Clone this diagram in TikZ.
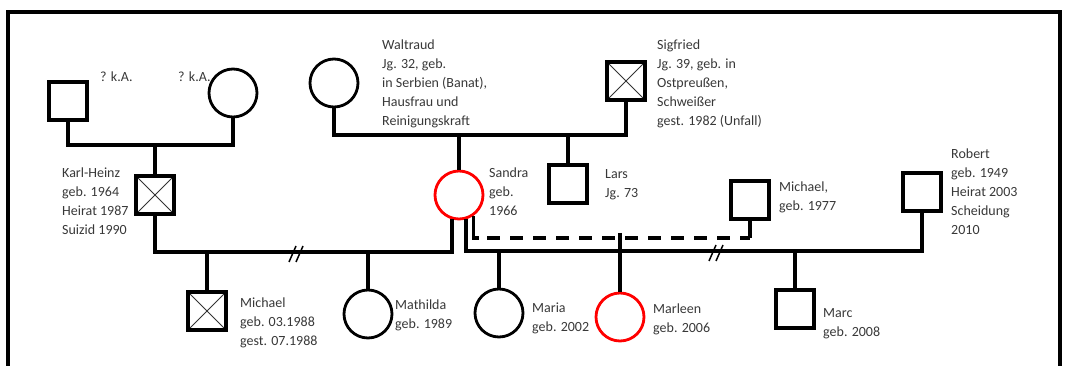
\documentclass[tikz,border=0pt]{standalone}
\usepackage{fontspec}
\setmainfont{Carlito}
\usetikzlibrary{positioning,calc}

\tikzset{
  male/.style={draw, rectangle, line width=3.2pt, minimum size=38pt, inner sep=0pt},
  female/.style={draw, circle, line width=2.8pt, minimum size=48pt, inner sep=0pt},
  dead/.style={line width=3.6pt, path picture={
      \draw[line width=1pt, black!80] (path picture bounding box.north west) -- (path picture bounding box.south east)
                              (path picture bounding box.north east) -- (path picture bounding box.south west);}},
  marked/.style={draw=red},
  info/.style={font=\fontsize{14}{19}\selectfont, text=black!78, align=left, anchor=north west, inner sep=0pt},
  bond/.style={line width=3.1pt},
  apart/.style={line width=3.1pt, dash pattern=on 13pt off 10pt},
  split/.style={line width=1.5pt}
}

\begin{document}
\begin{tikzpicture}[x=1pt, y=-1pt]
    \useasboundingbox (0,0) rectangle (1066,366);
    % frame
    \draw[line width=3.2pt] (8,366) -- (8,12) -- (1060,12) -- (1060,366);

    % grandparents
    \node[male] (gfA) at (68,101) {};
    \node[female] (gmA) at (233,93) {};
    \node[female] (wal) at (334,83) {};
    \node[male, dead] (sig) at (626,81) {};
    \coordinate (uA) at (155,145);
    \coordinate (uB) at (459,135);

    % parents and partners
    \node[male, dead] (kh) at (155,195) {};
    \node[female, marked] (san) at (459,195) {};
    \node[male] (lar) at (568,184) {};
    \node[male] (mic) at (750,200) {};
    \node[male] (rob) at (922,192) {};
    \coordinate (mA) at (293,252);
    \coordinate (mB) at (713,251);
    \coordinate (mC) at (620,238);

    % children
    \node[male, dead] (mi) at (207,311) {};
    \node[female] (mat) at (368,314) {};
    \node[female] (mar) at (499,313) {};
    \node[female, marked] (mle) at (620,317) {};
    \node[male] (mrc) at (795,309) {};

    % lines
    \draw[bond] (gfA.south) |- (uA) -| (gmA.south);
    \draw[bond] (uA) -- (kh.north);
    \draw[bond] (wal.south) |- (uB) -| (sig.south);
    \draw[bond] (uB) -- (san.north);
    \draw[bond] (lar.north) -- (lar.north |- uB);
    \draw[bond] (kh.south) |- (mA) -| (san.-106);
    \draw[bond] (mi.north) -- (mi.north |- mA);
    \draw[bond] (mat.north) -- (mat.north |- mA);
    \draw[bond] (san.-74) |- (mB) -| (rob.south);
    \draw[bond] (mar.north) -- (mar.north |- mB);
    \draw[bond] (mrc.north) -- (mrc.north |- mB);
    \draw[bond] (san.-56) -- (san.-56 |- mC) -- ++(6,0);
    \draw[apart] ($(san.-56 |- mC)+(14,0)$) -- (mic.south |- mC);
    \draw[bond] (mic.south) -- (mic.south |- mC);
    \draw[bond] ($(mC)+(0,-5)$) -- (mle.north);
    % divorce marks
    \foreach \m in {mA,mB}
      \foreach \d in {-4,3}
        \draw[split] ($(\m)+(\d,10)$) -- ++(7,-16);

    % labels
    \node[info] (qA) at (100,72) {? k.A.};
    \node[info] (qB) at (178,72) {? k.A.};
    \node[info] (lwal) at (382,40) {Waltraud\\Jg. 32, geb.\\in Serbien (Banat),\\Hausfrau und\\Reinigungskraft};
    \node[info] (lsig) at (657,40) {Sigfried\\Jg. 39, geb. in\\Ostpreußen,\\Schweißer\\gest. 1982 (Unfall)};
    \node[info] (lkh) at (62,168) {Karl-Heinz\\geb. 1964\\Heirat 1987\\Suizid 1990};
    \node[info] (lsan) at (489,168) {Sandra\\geb.\\1966};
    \node[info] (llar) at (605,169) {Lars\\Jg. 73};
    \node[info] (lmic) at (779,182) {Michael,\\geb. 1977};
    \node[info] (lrob) at (951,149) {Robert\\geb. 1949\\Heirat 2003\\Scheidung\\2010};
    \node[info] (lmi) at (240,298) {Michael\\geb. 03.1988\\gest. 07.1988};
    \node[info] (lmat) at (395,300) {Mathilda\\geb. 1989};
    \node[info] (lmar) at (532,303) {Maria\\geb. 2002};
    \node[info] (lmle) at (653,304) {Marleen\\geb. 2006};
    \node[info] (lmrc) at (823,308) {Marc\\geb. 2008};
\end{tikzpicture}
\end{document}
